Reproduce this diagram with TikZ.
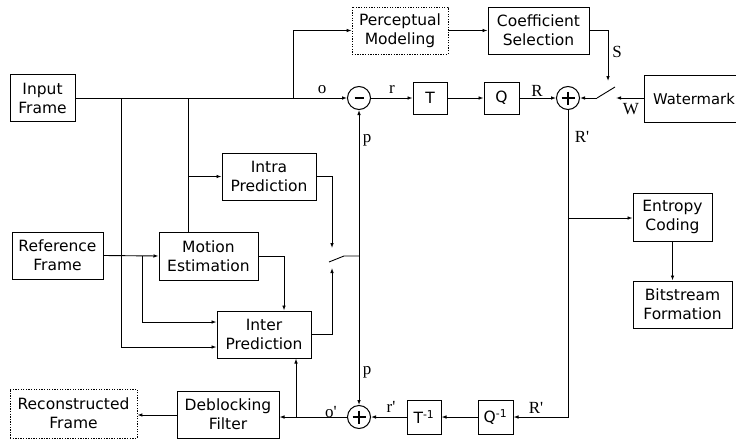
\documentclass[tikz,border=0pt]{standalone}
\usepackage{fontspec}
\setmainfont{DejaVu Sans}
\newfontfamily\lblfont{Liberation Serif}
\usetikzlibrary{arrows.meta}
\begin{document}
\begin{tikzpicture}[x=1pt,y=-1pt, line width=0.9pt,
 box/.style={draw, line width=1pt, inner sep=0pt, align=center, font=\fontsize{15.5}{19}\selectfont},
 dbox/.style={box, dash pattern=on 1.3pt off 1.3pt, line width=0.8pt},
 sumnode/.style={draw, circle, minimum size=23pt, inner sep=0pt, line width=1pt},
 lbl/.style={font=\lblfont\fontsize{17}{17}\selectfont, inner sep=0pt},
 arr/.style={-{Latex[length=5pt,width=3.6pt]}},
 sign/.style={line width=2.8pt},
]
\useasboundingbox (0,0) rectangle (736,439);
\clip (0,0) rectangle (736,439);
% blocks
\node[box, minimum width=65pt, minimum height=47pt] (inp) at (42.5,98) {Input\\Frame};
\node[dbox, minimum width=96pt, minimum height=47pt] (perc) at (400,30.5) {Perceptual\\Modeling};
\node[box, minimum width=101pt, minimum height=47pt] (coef) at (538.5,30.5) {Coefficient\\Selection};
\node[sumnode] (minus) at (359,98) {};
\node[box, minimum width=34pt, minimum height=32pt] (T) at (430,98) {T};
\node[box, minimum width=35pt, minimum height=32pt] (Q) at (501.5,98) {Q};
\node[sumnode] (plus1) at (568,98) {};
\node[box, minimum width=100pt, minimum height=47pt, font=\fontsize{14.8}{18}\selectfont] (wm) at (694,98.5) {Watermark};
\node[box, minimum width=94pt, minimum height=47pt] (intra) at (269,176.5) {Intra\\Prediction};
\node[box, minimum width=91pt, minimum height=47pt] (ref) at (57.5,255.5) {Reference\\Frame};
\node[box, minimum width=99pt, minimum height=48pt] (mot) at (208.5,256) {Motion\\Estimation};
\node[box, minimum width=94pt, minimum height=47pt] (inter) at (264,334.5) {Inter\\Prediction};
\node[box, minimum width=79pt, minimum height=48pt] (ent) at (672.5,217) {Entropy\\Coding};
\node[box, minimum width=99pt, minimum height=47pt] (bit) at (682.5,304.5) {Bitstream\\Formation};
\node[box, minimum width=35pt, minimum height=34pt] (Qi) at (495.5,417) {Q\textsuperscript{-1}};
\node[box, minimum width=34pt, minimum height=34pt] (Ti) at (424,417) {T\textsuperscript{-1}};
\node[sumnode] (plus2) at (359,417) {};
\node[box, minimum width=102pt, minimum height=47pt] (deb) at (228,414.5) {Deblocking\\Filter};
\node[dbox, minimum width=127pt, minimum height=49pt] (rec) at (73.5,413.5) {Reconstructed\\Frame};
% signs
\draw[sign] (minus) +(-4.5,0) -- +(4.5,0);
\draw[sign] (plus1) +(-6.5,0) -- +(6.5,0) (plus1) +(0,-6.5) -- +(0,6.5);
\draw[sign] (plus2) +(-6.5,0) -- +(6.5,0) (plus2) +(0,-6.5) -- +(0,6.5);
% branch coordinates
\coordinate (b1) at (121,98);
\coordinate (b2) at (188,98);
\coordinate (b3) at (293,98);
\coordinate (b4) at (142,256);
\coordinate (swA) at (329,262);
\coordinate (swB) at (344,256);
\coordinate (pj) at (359,256);
\coordinate (swIn1) at (332,248);
\coordinate (swIn2) at (332,268);
\coordinate (sw2A) at (597,98);
\coordinate (sw2B) at (615,87);
\coordinate (sIn) at (608,81);
\coordinate (wIn) at (616,98);
\coordinate (rc) at (568,417);
\coordinate (eb) at (568,218);
\coordinate (ob) at (296,417);
% connectors
\draw[arr] (inp.east) -- (minus.west);
\draw[arr] (b3) |- (perc.west);
\draw[arr] (perc.east) -- (coef.west);
\draw[arr] (b1) |- (inter.west |- 0,347);
\draw (b2) -- (b2 |- mot.north);
\draw[arr] (b2 |- intra.west) -- (intra.west);
\draw[arr] (ref.east) -- (mot.west);
\draw[arr] (b4) |- (inter.west |- 0,322);
\draw[arr] (mot.east) -| (inter.north -| 284,0);
\draw (swA) -- (swB) -- (pj);
\draw[arr] (pj) -- (minus.south);
\draw[arr] (pj) -- (plus2.north);
\draw[arr] (intra.east) -| (swIn1);
\draw[arr] (inter.east) -| (swIn2);
\draw[arr] (minus.east) -- (T.west);
\draw[arr] (T.east) -- (Q.west);
\draw[arr] (Q.east) -- (plus1.west);
\draw[arr] (coef.east) -| (sIn);
\draw (sw2A) -- (sw2B);
\draw[arr] (wm.west |- wIn) -- (wIn);
\draw[arr] (sw2A) -- (plus1.east);
\draw[arr] (plus1.south) -- (rc) -- (Qi.east);
\draw[arr] (eb) -- (ent.west |- eb);
\draw[arr] (ent.south) -- (ent.south |- bit.north);
\draw[arr] (Qi.west) -- (Ti.east);
\draw[arr] (Ti.west) -- (plus2.east);
\draw[arr] (plus2.west) -- (deb.east |- plus2.west);
\draw[arr] (ob) -- (inter.south -| ob);
\draw[arr] (deb.west |- 0,415) -- (rec.east |- 0,415);
% labels
\node[lbl] (lo) at (322,90) {o};
\node[lbl] (lr) at (392,89) {r};
\node[lbl] (lp1) at (367,140) {p};
\node[lbl] (lR) at (537,91) {R};
\node[lbl] (lS) at (617,52) {S};
\node[lbl] (lW) at (631,109) {W};
\node[lbl] (lR1) at (582,137) {R'};
\node[lbl] (lp2) at (367,372) {p};
\node[lbl] (lo2) at (331,412) {o'};
\node[lbl] (lr2) at (391,407) {r'};
\node[lbl] (lR2) at (536,408) {R'};
\end{tikzpicture}
\end{document}
